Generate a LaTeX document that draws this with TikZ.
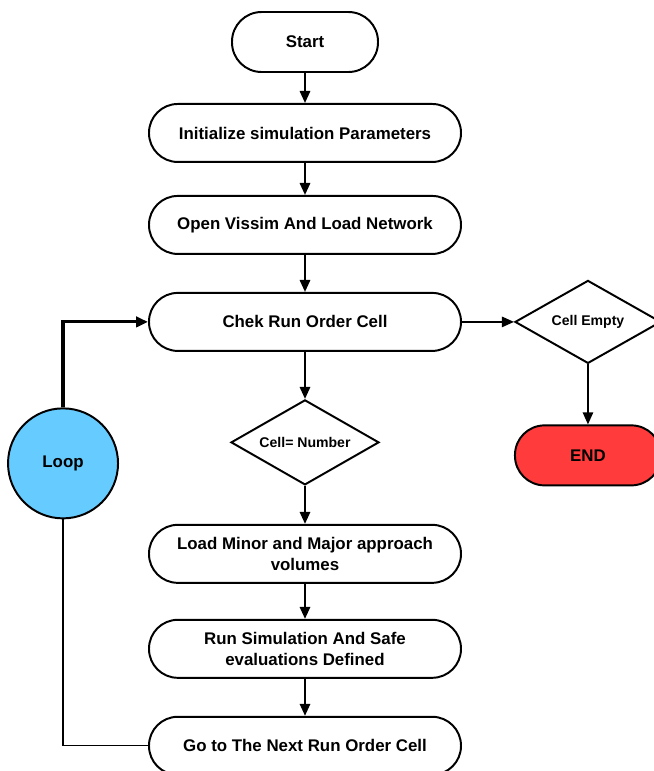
\documentclass[tikz,border=0pt]{standalone}
\usepackage{fontspec}
\setmainfont{Liberation Sans}
\usepackage{tikz}
\usetikzlibrary{shapes,arrows.meta,positioning}

\definecolor{loopblue}{HTML}{66CCFF}
\definecolor{endred}{HTML}{FF3B3B}

\begin{document}
\begin{tikzpicture}[
    font=\bfseries\fontsize{12}{14.5}\selectfont,
    term/.style={rectangle, rounded corners=0.74cm, draw, line width=1.4pt, minimum width=3.65cm, minimum height=1.5cm, align=center},
    box/.style={rectangle, rounded corners=0.72cm, draw, line width=1.4pt, minimum width=7.8cm, minimum height=1.45cm, align=center},
    decision/.style={diamond, draw, line width=1.4pt, aspect=1.75, inner sep=0pt, align=center, font=\bfseries\fontsize{10}{12}\selectfont},
    arrow/.style={-{Triangle[length=0.3cm,width=0.26cm]}, line width=1.4pt},
    thinarrow/.style={-{Triangle[length=0.3cm,width=0.26cm]}, line width=1pt}
]
    \useasboundingbox (-7.625,1.05) rectangle (8.7,-18.225);

    % Main column
    \node[term] (start) at (0,0) {Start};
    \node[box, below=0.75cm of start] (init) {Initialize simulation Parameters};
    \node[box, below=0.8cm of init] (open) {Open Vissim And Load Network};
    \node[box, below=0.925cm of open] (chek) {Chek Run Order Cell};
    \node[decision, below=1.175cm of chek, minimum width=3.7cm, minimum height=2.125cm] (cellnum) {Cell= Number};
    \node[box, below=0.95cm of cellnum] (load) {Load Minor and Major approach\\volumes};
    \node[box, below=0.875cm of load] (run) {Run Simulation And Safe\\evaluations Defined};
    \node[box, below=0.925cm of run] (next) {Go to The Next Run Order Cell};

    % Exit branch
    \node[decision, right=1.3cm of chek, minimum width=3.65cm, minimum height=2.075cm] (cellempty) {Cell Empty};
    \node[term, below=1.5cm of cellempty, fill=endred] (end) {END};

    % Loop
    \node[circle, draw, line width=1.4pt, fill=loopblue, minimum size=2.75cm, left=2.775cm of cellnum, yshift=-0.525cm] (loop) {Loop};

    % Arrows
    \draw[arrow] (start) -- (init);
    \draw[arrow] (init) -- (open);
    \draw[arrow] (open) -- (chek);
    \draw[arrow] (chek) -- (cellnum);
    \draw[arrow] (cellnum) -- (load);
    \draw[arrow] (load) -- (run);
    \draw[arrow] (run) -- (next);
    \draw[thinarrow] (chek) -- (cellempty);
    \draw[thinarrow] (cellempty) -- (end);
    \draw[arrow, line width=2.2pt] (loop.north) |- (chek.west);
    \draw[line width=1pt] (next.west) -| (loop.south);
\end{tikzpicture}
\end{document}
